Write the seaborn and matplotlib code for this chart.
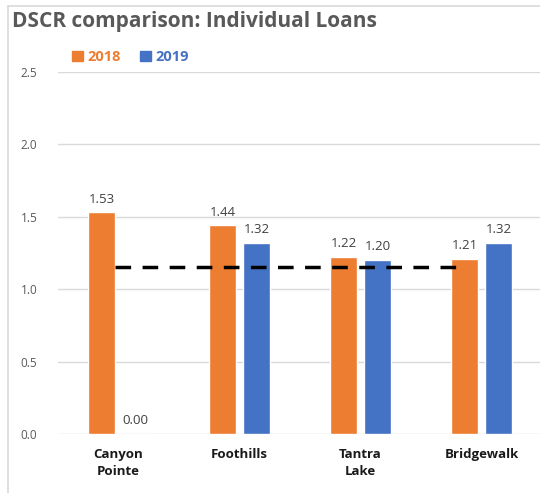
import matplotlib
matplotlib.use("Agg")
import matplotlib.pyplot as plt
import seaborn as sns
import pandas as pd
from matplotlib.lines import Line2D
from matplotlib.patches import Rectangle

categories = ["Canyon\nPointe", "Foothills", "Tantra\nLake", "Bridgewalk"]
years = ["2018", "2019"]
dscr_2018 = [1.53, 1.44, 1.22, 1.21]
dscr_2019 = [0.00, 1.32, 1.20, 1.32]
threshold = 1.15
yticks = [0.0, 0.5, 1.0, 1.5, 2.0, 2.5]

df = pd.DataFrame({
    "Loan": categories * 2,
    "Year": [years[0]] * 4 + [years[1]] * 4,
    "DSCR": dscr_2018 + dscr_2019,
})

sns.set_theme(style="white")
plt.rcParams['font.family'] = ['Open Sans', 'DejaVu Sans']

fig = plt.figure(figsize=(5.4, 4.93), dpi=100)
ax = fig.add_axes([58/540, 1 - 434/493, (542-58)/540, (434-72)/493])

orange = "#ED7D31"
blue = "#4472C4"
sns.barplot(data=df, x="Loan", y="DSCR", hue="Year", palette=[orange, blue],
            width=0.562, gap=0.235, ax=ax, legend=False, saturation=1)

for cont in ax.containers:
    ax.bar_label(cont, fmt="%.2f", padding=5, fontsize=9.5, color="#404040")

ax.hlines(threshold, -0.03, 2.88, colors="black", linestyles=(0, (4.5, 3.3)),
          linewidth=2.5, zorder=5)

ax.set_ylim(0, 2.5)
ax.set_xlim(-0.5, 3.5)
ax.set_yticks(yticks)
ax.set_yticklabels([f"{v:.1f}" for v in yticks], fontsize=8.5, color="#595959")
ax.yaxis.grid(True, color="#d9d9d9", linewidth=1)
ax.set_axisbelow(True)
ax.tick_params(axis="y", length=0, pad=15)
ax.tick_params(axis="x", length=0, pad=10)
for lbl in ax.get_xticklabels():
    lbl.set_fontweight("bold")
    lbl.set_fontsize(9.5)
    lbl.set_color("#1a1a1a")
    lbl.set_linespacing(1.45)
ax.set_xlabel("")
ax.set_ylabel("")
for s in ax.spines.values():
    s.set_visible(False)

fig.text(12/540, 1 - 22/493, "DSCR comparison: Individual Loans", fontsize=15,
         fontweight="bold", color="#595959", va="center", ha="left")

handles = [Rectangle((0, 0), 1, 1, color=orange), Rectangle((0, 0), 1, 1, color=blue)]
leg = fig.legend(handles, years, loc="center left", bbox_to_anchor=(65/540, 1 - 57/493),
                 ncol=2, frameon=False, fontsize=10.5, handlelength=0.75, handleheight=0.75,
                 handletextpad=0.3, columnspacing=1.3, borderpad=0)
for t, c in zip(leg.get_texts(), [orange, blue]):
    t.set_color(c)
    t.set_fontweight("bold")

# chart border (left and top)
fig.add_artist(Line2D([8/540, 8/540], [0, 1 - 6/493], color="#d9d9d9", linewidth=1.2))
fig.add_artist(Line2D([8/540, 1], [1 - 6/493, 1 - 6/493], color="#d9d9d9", linewidth=1.2))

fig.savefig("out.png", dpi=100)
